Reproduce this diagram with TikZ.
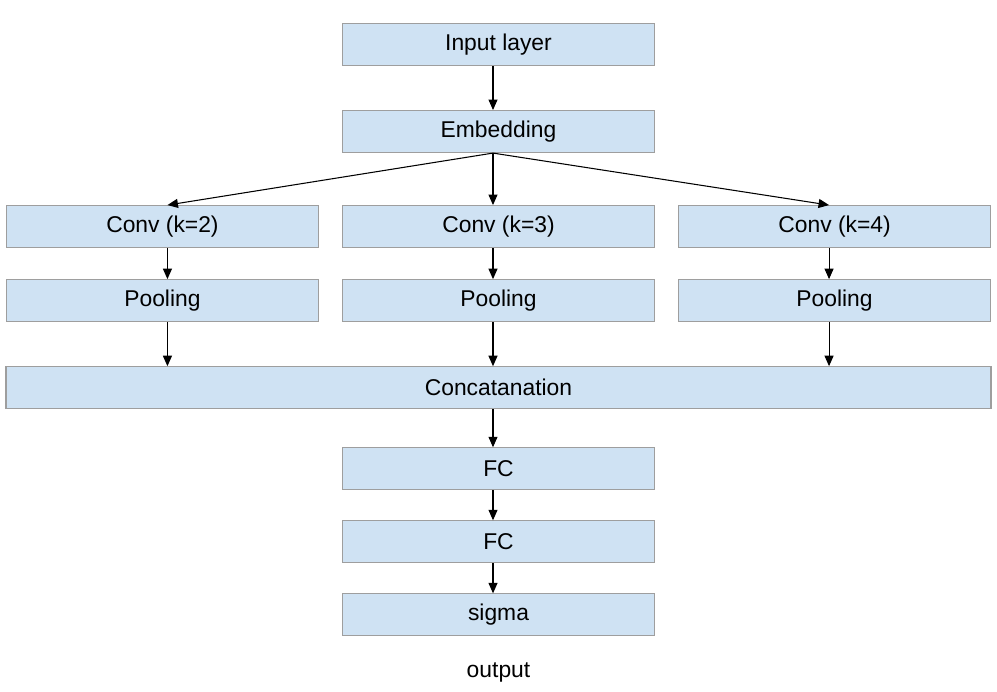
\documentclass[tikz,border=0pt]{standalone}
\usepackage{fontspec}
\setmainfont{Liberation Sans}
\usetikzlibrary{positioning, arrows.meta}
\definecolor{layerfill}{HTML}{CFE2F3}
\definecolor{layerdraw}{HTML}{9E9E9E}

\begin{document}
\begin{tikzpicture}[
    node distance=0.6cm and 0.46cm,
    layer/.style={draw=layerdraw, fill=layerfill, line width=0.6pt,
                  minimum width=6.24cm, minimum height=0.84cm, inner sep=0pt,
                  font=\fontsize{13}{15}\selectfont},
    arr/.style={-{Triangle[length=0.21cm, width=0.18cm]}, line width=0.6pt},
  ]
  \useasboundingbox (0,0) rectangle (19.94,-13.82);

  % ── Input / embedding ──
  \node[layer] (input) at (9.97,-0.89) {Input layer};
  \node[layer, below=0.88cm of input] (embed) {Embedding};

  % ── Conv branches ──
  \node[layer, below=1.04cm of embed] (conv3) {Conv (k=3)};
  \node[layer, left=of conv3] (conv2) {Conv (k=2)};
  \node[layer, right=of conv3] (conv4) {Conv (k=4)};

  \node[layer, below=0.62cm of conv2] (pool2) {Pooling};
  \node[layer, below=0.62cm of conv3] (pool3) {Pooling};
  \node[layer, below=0.62cm of conv4] (pool4) {Pooling};

  % ── Merge and head ──
  \node[layer, below=0.88cm of pool3, minimum width=19.7cm] (concat) {Concatanation};
  \node[layer, below=0.76cm of concat] (fc1) {FC};
  \node[layer, below=of fc1] (fc2) {FC};
  \node[layer, below=of fc2] (sigma) {sigma};
  \node[font=\fontsize{13}{15}\selectfont] (output) at ([yshift=-0.72cm]sigma.south) {output};

  % ── Arrows ──
  \draw[arr] ([xshift=-0.11cm]input.south) -- ([xshift=-0.11cm]embed.north);

  \draw[arr] ([xshift=-0.11cm]embed.south) -- ([xshift=0.1cm]conv2.north);
  \draw[arr] ([xshift=-0.11cm]embed.south) -- ([xshift=-0.11cm]conv3.north);
  \draw[arr] ([xshift=-0.11cm]embed.south) -- ([xshift=-0.11cm]conv4.north);

  \draw[arr] ([xshift=0.1cm]conv2.south) -- ([xshift=0.1cm]pool2.north);
  \draw[arr] ([xshift=-0.11cm]conv3.south) -- ([xshift=-0.11cm]pool3.north);
  \draw[arr] ([xshift=-0.11cm]conv4.south) -- ([xshift=-0.11cm]pool4.north);

  \draw[arr] ([xshift=0.1cm]pool2.south) -- ([xshift=0.1cm]pool2.south |- concat.north);
  \draw[arr] ([xshift=-0.11cm]pool3.south) -- ([xshift=-0.11cm]concat.north);
  \draw[arr] ([xshift=-0.11cm]pool4.south) -- ([xshift=-0.11cm]pool4.south |- concat.north);

  \draw[arr] ([xshift=-0.11cm]concat.south) -- ([xshift=-0.11cm]fc1.north);
  \draw[arr] ([xshift=-0.11cm]fc1.south) -- ([xshift=-0.11cm]fc2.north);
  \draw[arr] ([xshift=-0.11cm]fc2.south) -- ([xshift=-0.11cm]sigma.north);

\end{tikzpicture}
\end{document}
